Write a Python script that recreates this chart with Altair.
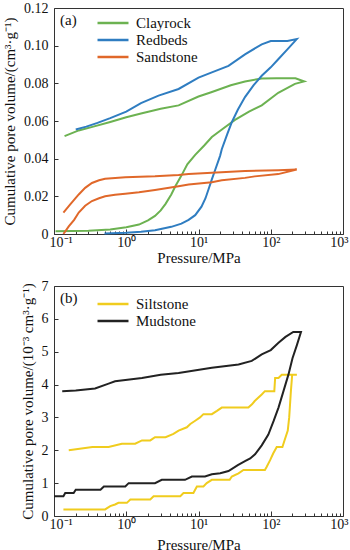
import altair as alt
import pandas as pd

FONT = "Liberation Serif"

# ---------------- data (a) ----------------
clay_p_in = [0.105, 0.3, 0.6, 1.0, 1.5, 2.0, 2.5, 3.0, 3.5, 4.2, 4.8, 5.8, 7.0, 9.0, 12, 15.3, 22, 32, 50, 75, 127, 216, 290]
clay_v_in = [0.0015, 0.0017, 0.0024, 0.0036, 0.005, 0.0072, 0.0096, 0.0125, 0.016, 0.021, 0.0255, 0.031, 0.037, 0.042, 0.047, 0.0515, 0.056, 0.0606, 0.065, 0.0683, 0.075, 0.0797, 0.081]
clay_p_out = [290, 220, 120, 75, 44, 28, 15, 10, 5.3, 3, 1.6, 1.0, 0.6, 0.35, 0.22, 0.14]
clay_v_out = [0.081, 0.0827, 0.0827, 0.0826, 0.081, 0.079, 0.0753, 0.073, 0.0683, 0.0665, 0.064, 0.062, 0.0595, 0.057, 0.055, 0.052]

red_p_in = [0.5, 1.0, 1.6, 2.5, 4.2, 5.8, 7.3, 9, 11, 12.5, 13.7, 15.3, 17, 19.9, 21, 25, 29, 35, 44, 58, 75, 100, 127, 170, 229]
red_v_in = [0.0002, 0.0006, 0.0012, 0.002, 0.0038, 0.0055, 0.0075, 0.010, 0.0145, 0.019, 0.0235, 0.029, 0.034, 0.0415, 0.045, 0.053, 0.0595, 0.066, 0.0727, 0.079, 0.084, 0.0885, 0.0928, 0.098, 0.1035]
red_p_out = [229, 170, 100, 75, 44, 26, 15.3, 10, 5.3, 2.8, 1.6, 1.0, 0.6, 0.4, 0.28, 0.2]
red_v_out = [0.1035, 0.1025, 0.1025, 0.1007, 0.0954, 0.0893, 0.0858, 0.083, 0.077, 0.0735, 0.0695, 0.065, 0.0615, 0.059, 0.057, 0.0555]

sand_p_in = [0.135, 0.16, 0.19, 0.22, 0.27, 0.335, 0.42, 0.51, 0.7, 0.97, 1.5, 2.5, 5.3, 7.3, 15.3, 21, 44, 60, 127, 229]
sand_v_in = [0.0, 0.004, 0.0075, 0.0114, 0.015, 0.0175, 0.019, 0.020, 0.0208, 0.0214, 0.0222, 0.0234, 0.0254, 0.0263, 0.0275, 0.0285, 0.0298, 0.0306, 0.0318, 0.0342]
sand_p_out = [229, 127, 44, 15.3, 7.3, 5.3, 2.5, 0.97, 0.51, 0.42, 0.335, 0.27, 0.22, 0.17, 0.135]
sand_v_out = [0.0342, 0.0339, 0.0334, 0.0325, 0.0319, 0.0313, 0.0306, 0.0301, 0.0293, 0.0285, 0.0271, 0.0245, 0.021, 0.016, 0.0114]

# ---------------- data (b) ----------------
silt_p_in = [0.135, 0.51, 0.6, 0.7, 0.78, 1.02, 1.14, 2.15, 2.39, 5.6, 6.2, 8.5, 9.5, 11.7, 13, 15.3, 27, 28.9, 35.8, 41.9, 83, 88, 98, 108, 121, 145, 155, 172, 180, 190, 198, 230]
silt_v_in = [0.2, 0.2, 0.3, 0.35, 0.4, 0.4, 0.5, 0.5, 0.6, 0.6, 0.7, 0.7, 0.9, 0.9, 1.0, 1.1, 1.1, 1.2, 1.3, 1.4, 1.4, 1.5, 1.7, 1.9, 2.1, 2.1, 2.3, 2.6, 3.0, 3.8, 4.3, 4.3]
silt_p_out = [230, 142, 128, 115, 112, 83, 75, 67, 60, 55, 49, 21, 18, 15.3, 11.7, 10.5, 9, 7.7, 6.9, 5.3, 4.5, 3.5, 2.5, 2.15, 1.65, 1.33, 0.87, 0.57, 0.34, 0.16]
silt_v_out = [4.3, 4.3, 4.2, 4.2, 3.8, 3.8, 3.7, 3.6, 3.5, 3.4, 3.3, 3.3, 3.2, 3.1, 3.1, 3.0, 2.9, 2.8, 2.7, 2.6, 2.5, 2.4, 2.4, 2.3, 2.3, 2.2, 2.2, 2.1, 2.1, 2.0]

mud_p_in = [0.1, 0.135, 0.143, 0.187, 0.2, 0.44, 0.49, 0.97, 1.08, 2.5, 3.1, 6.5, 8.1, 12.3, 15.3, 20, 26, 35, 44, 52, 60.6, 75, 92.6, 110, 128, 150, 176, 200, 230, 262]
mud_v_in = [0.6, 0.6, 0.7, 0.7, 0.8, 0.8, 0.9, 0.9, 1.0, 1.0, 1.1, 1.1, 1.2, 1.2, 1.27, 1.3, 1.37, 1.55, 1.67, 1.75, 1.88, 2.15, 2.48, 2.9, 3.3, 3.8, 4.31, 4.8, 5.2, 5.6]
mud_p_out = [262, 205, 160, 128, 100, 75, 54.6, 35.8, 15.3, 5.3, 3, 1.65, 0.7, 0.57, 0.37, 0.2, 0.13]
mud_v_out = [5.6, 5.6, 5.45, 5.27, 5.05, 4.92, 4.72, 4.61, 4.51, 4.35, 4.3, 4.2, 4.1, 4.03, 3.88, 3.82, 3.8]

series_a = ["Clayrock", "Redbeds", "Sandstone"]
colors_a = ["#6cb251", "#2f7dc1", "#e0682a"]
series_b = ["Siltstone", "Mudstone"]
colors_b = ["#f0cc1e", "#222222"]

xtick_vals = [0.1, 1, 10, 100, 1000]
xtick_labels = ["10⁻¹", "10⁰", "10¹", "10²", "10³"]
xminor_vals = [m * d for d in [0.1, 1, 10, 100] for m in range(2, 10)]
ytick_a = [0, 0.02, 0.04, 0.06, 0.08, 0.10, 0.12]
ytick_b = [0, 1, 2, 3, 4, 5, 6, 7]


def build_df(names, curves):
    rows = []
    for name, (pin, vin, pout, vout) in zip(names, curves):
        pts = list(zip(pin, vin)) + list(zip(pout, vout))
        for i, (p, v) in enumerate(pts):
            rows.append({"series": name, "p": p, "v": v, "idx": i})
    return pd.DataFrame(rows)


df_a = build_df(series_a, [
    (clay_p_in, clay_v_in, clay_p_out, clay_v_out),
    (red_p_in, red_v_in, red_p_out, red_v_out),
    (sand_p_in, sand_v_in, sand_p_out, sand_v_out),
])
df_b = build_df(series_b, [
    (silt_p_in, silt_v_in, silt_p_out, silt_v_out),
    (mud_p_in, mud_v_in, mud_p_out, mud_v_out),
])

x_label_expr = " : ".join(
    f"datum.value < {v * 3} ? '{lab}'" for v, lab in zip(xtick_vals[:-1], xtick_labels[:-1])
) + f" : '{xtick_labels[-1]}'"

W = 289
AXC = "#333333"
TXT = "#111111"
FONTS = dict(labelFont=FONT, labelFontSize=14, titleFont=FONT, titleFontSize=15,
             titleFontWeight="normal", labelColor=TXT, titleColor=TXT)
HELP = dict(labels=False, domain=False, grid=False, title=None, tickColor=AXC,
            tickWidth=1, minExtent=0, maxExtent=0)


def panel(df, names, colors, ydom, yticks, ylabel_expr, ytitle, tag, H, leg_y, xt_pad):
    xs = alt.Scale(type="log", domain=[0.1, 1000])
    ys = alt.Scale(domain=ydom, nice=False, zero=False)
    lines = alt.Chart(df).mark_line(strokeWidth=2).encode(
        x=alt.X("p:Q", scale=xs, axis=alt.Axis(
            orient="bottom", values=xtick_vals, labelExpr=x_label_expr, ticks=False,
            domain=False, grid=False, title="Pressure/MPa", labelPadding=1,
            titlePadding=xt_pad, labelFlush=True, labelFlushOffset=5, **FONTS)),
        y=alt.Y("v:Q", scale=ys, axis=alt.Axis(
            orient="left", values=yticks, labelExpr=ylabel_expr, ticks=False,
            domain=False, grid=False, title=ytitle, labelPadding=6, titlePadding=6,
            **FONTS)),
        color=alt.Color("series:N", scale=alt.Scale(domain=names, range=colors),
                        legend=alt.Legend(orient="none", legendX=50, legendY=leg_y, title=None,
                                          symbolType="M-2,0H2", symbolSize=240,
                                          symbolStrokeWidth=2.5, labelFont=FONT,
                                          labelFontSize=15, rowPadding=0, labelOffset=14,
                                          labelColor=TXT)),
        order="idx:Q",
    )
    major = alt.Chart(df).mark_point(opacity=0).encode(
        x=alt.X("p:Q", scale=xs, axis=alt.Axis(
            orient="bottom", offset=-5, values=xtick_vals, tickSize=5, **HELP)),
        y=alt.Y("v:Q", scale=ys, axis=alt.Axis(
            orient="left", offset=-4, values=yticks, tickSize=4, **HELP)),
    )
    minor = alt.Chart(df).mark_point(opacity=0).encode(
        x=alt.X("p:Q", scale=xs, axis=alt.Axis(
            orient="bottom", offset=-3, values=xminor_vals, tickSize=3, **HELP)),
        y=alt.Y("v:Q", scale=ys, axis=None),
    )
    label = alt.Chart(pd.DataFrame({"t": [tag]})).mark_text(
        font=FONT, fontSize=15, align="left", baseline="middle", color=TXT
    ).encode(text="t:N", x=alt.value(6), y=alt.value(12))
    return alt.layer(lines, major, minor, label).resolve_axis(
        x="independent", y="independent").properties(width=W, height=H)


top = panel(df_a, series_a, colors_a, [0, 0.12], ytick_a,
            "datum.value == 0 ? '0' : format(datum.value, '.2f')",
            "Cumulative pore volume/(cm³·g⁻¹)", "(a)", 226, 6, 1)
bottom = panel(df_b, series_b, colors_b, [0, 7], ytick_b,
               "format(datum.value, 'd')",
               "Cumulative pore volume/(10⁻³ cm³·g⁻¹)", "(b)", 230, 9, 6)

chart = alt.vconcat(top, bottom, spacing=12).resolve_scale(color="independent").configure_view(
    stroke=AXC, strokeWidth=1
).properties(padding={"left": 2, "top": 0, "right": 0, "bottom": 0})

chart.save("out.html", embed_options={"renderer": "svg", "actions": False})
